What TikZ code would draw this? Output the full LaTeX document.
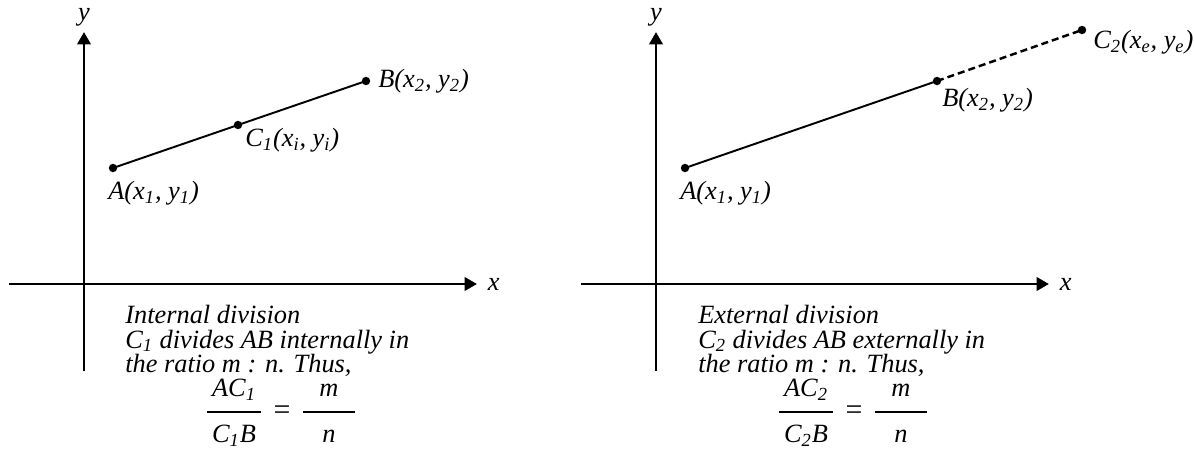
\documentclass[tikz,border=0pt]{standalone}
\usepackage{fontspec}
\setmainfont{Liberation Serif}[ItalicFont={Liberation Serif Italic}]
\usetikzlibrary{arrows.meta}

\begin{document}
\begin{tikzpicture}[x=0.02cm,y=-0.02cm,>={Triangle[length=7pt,width=7.5pt]},
  font=\fontsize{15}{13.9}\selectfont\itshape,line cap=butt,
  axis/.style={line width=1.7pt,->},
  seg/.style={line width=1.1pt},
  lbl/.style={inner sep=0pt,anchor=west},
  txt/.style={inner sep=0pt,anchor=north west,align=left}]
\useasboundingbox (0,0) rectangle (1194,476);
% internal division
\coordinate (xl1) at (9,284);
\coordinate (xr1) at (477,284);
\coordinate (yb1) at (84,371);
\coordinate (yt1) at (84,32);
\draw[axis] (xl1) -- (xr1) node[right=2pt]{x};
\draw[axis] (yb1) -- (yt1) node[above=-1pt]{y};
\coordinate (A1) at (113,168);
\coordinate (C1) at (238,125);
\coordinate (B1) at (366,81);
\draw[seg] (A1) -- (C1) -- (B1);
\foreach \p in {A1,C1,B1} \fill (\p) circle (2.4pt);
\node[lbl] (labA1) at (108,193) {A(x\textsubscript{1}, y\textsubscript{1})};
\node[lbl] (labC1) at (245,140) {C\textsubscript{1}(x\textsubscript{i}, y\textsubscript{i})};
\node[lbl] (labB1) at (378,81) {B(x\textsubscript{2}, y\textsubscript{2})};
\node[txt] (note1) at (125,305) {Internal division\\C\textsubscript{1} divides AB internally in\\the ratio m : n. Thus,};
\node[inner sep=0pt] (numL1) at (234,390) {AC\textsubscript{1}};
\node[inner sep=0pt] (denL1) at (234,436) {C\textsubscript{1}B};
\draw[line width=0.9pt] (207,412) -- (261,412);
\node[inner sep=0pt,font=\fontsize{17}{17}\selectfont] (eq1) at (282,413) {=};
\node[inner sep=0pt] (numR1) at (329,390) {m};
\node[inner sep=0pt] (denR1) at (329,436) {n};
\draw[line width=0.9pt] (303,412) -- (355,412);
% external division
\coordinate (xl2) at (581,284);
\coordinate (xr2) at (1049,284);
\coordinate (yb2) at (656,371);
\coordinate (yt2) at (656,32);
\draw[axis] (xl2) -- (xr2) node[right=2pt]{x};
\draw[axis] (yb2) -- (yt2) node[above=-1pt]{y};
\coordinate (A2) at (685,168);
\coordinate (B2) at (937,81);
\coordinate (C2) at (1082,30);
\draw[seg] (A2) -- (B2);
\draw[line width=1.4pt,dash pattern=on 4pt off 2.3pt] (B2) -- (C2);
\foreach \p in {A2,B2,C2} \fill (\p) circle (2.4pt);
\node[lbl] (labA2) at (680,193) {A(x\textsubscript{1}, y\textsubscript{1})};
\node[lbl] (labB2) at (942,100) {B(x\textsubscript{2}, y\textsubscript{2})};
\node[lbl] (labC2) at (1093,42) {C\textsubscript{2}(x\textsubscript{e}, y\textsubscript{e})};
\node[txt] (note2) at (698,305) {External division\\C\textsubscript{2} divides AB externally in\\the ratio m : n. Thus,};
\node[inner sep=0pt] (numL2) at (806,390) {AC\textsubscript{2}};
\node[inner sep=0pt] (denL2) at (806,436) {C\textsubscript{2}B};
\draw[line width=0.9pt] (779,412) -- (833,412);
\node[inner sep=0pt,font=\fontsize{17}{17}\selectfont] (eq2) at (854,413) {=};
\node[inner sep=0pt] (numR2) at (901,390) {m};
\node[inner sep=0pt] (denR2) at (901,436) {n};
\draw[line width=0.9pt] (875,412) -- (927,412);
\end{tikzpicture}
\end{document}
